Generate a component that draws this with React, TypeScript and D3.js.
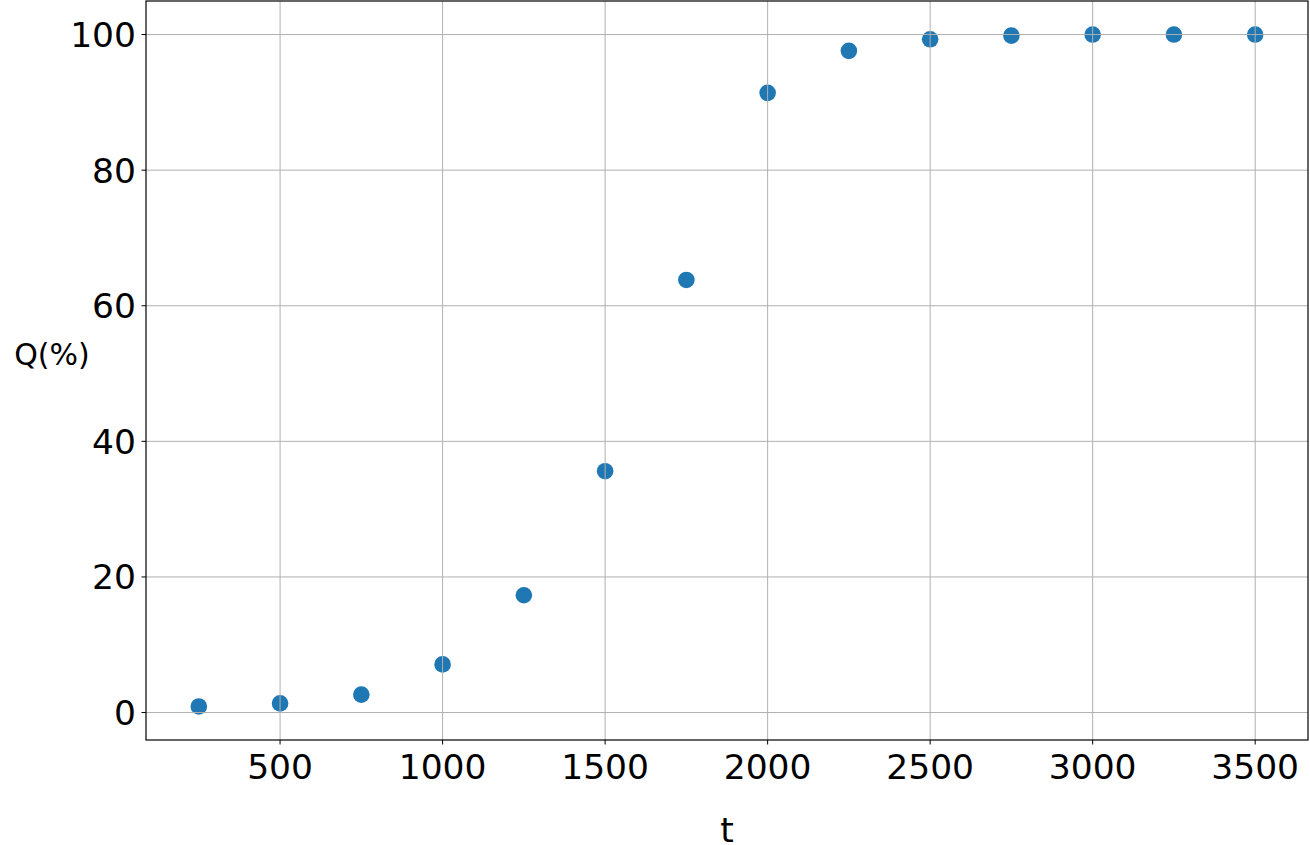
import React from "react";
import * as d3 from "d3";

const tValues = [250, 500, 750, 1000, 1250, 1500, 1750, 2000, 2250, 2500, 2750, 3000, 3250, 3500];
const qValues = [0.9, 1.35, 2.65, 7.1, 17.3, 35.6, 63.8, 91.4, 97.6, 99.3, 99.85, 100, 100, 100];
const xTicks = [500, 1000, 1500, 2000, 2500, 3000, 3500];
const yTicks = [0, 20, 40, 60, 80, 100];

const W = 1310;
const H = 845;
const M = { left: 146, right: 1308, top: 1, bottom: 740 };
const FONT = "DejaVu Sans, sans-serif";

export default function App() {
  const x = d3.scaleLinear().domain([87.5, 3662.5]).range([M.left, M.right]);
  const y = d3.scaleLinear().domain([-4.05, 104.95]).range([M.bottom, M.top]);
  const pts = tValues.map((t, i) => ({ t, q: qValues[i] }));
  return (
    <svg
      width={W}
      height={H}
      style={{ position: "absolute", left: 0, top: 0, background: "#fff" }}
    >
      <rect x={0} y={0} width={W} height={H} fill="#fff" />
      {pts.map((p, i) => (
        <circle key={i} cx={x(p.t)} cy={y(p.q)} r={8.3} fill="#1f77b4" />
      ))}
      <g stroke="#b0b0b0" strokeWidth={1}>
        {xTicks.map((t) => (
          <line key={"gx" + t} x1={x(t)} x2={x(t)} y1={M.top} y2={M.bottom} />
        ))}
        {yTicks.map((t) => (
          <line key={"gy" + t} x1={M.left} x2={M.right} y1={y(t)} y2={y(t)} />
        ))}
      </g>
      <rect
        x={M.left}
        y={M.top}
        width={M.right - M.left}
        height={M.bottom - M.top}
        fill="none"
        stroke="#000"
        strokeWidth={1.2}
      />
      <g stroke="#000" strokeWidth={1}>
        {xTicks.map((t) => (
          <line key={"tx" + t} x1={x(t)} x2={x(t)} y1={M.bottom} y2={M.bottom + 4.5} />
        ))}
        {yTicks.map((t) => (
          <line key={"ty" + t} x1={M.left - 4.5} x2={M.left} y1={y(t)} y2={y(t)} />
        ))}
      </g>
      <g fontFamily={FONT} fontSize={34.5} fill="#000">
        {xTicks.map((t) => (
          <text key={"lx" + t} x={x(t)} y={M.bottom + 39} textAnchor="middle">
            {t}
          </text>
        ))}
        {yTicks.map((t) => (
          <text key={"ly" + t} x={M.left - 10} y={y(t) + 12.5} textAnchor="end">
            {t}
          </text>
        ))}
        <text x={(M.left + M.right) / 2} y={845} textAnchor="middle" dy={-3}>
          t
        </text>
      </g>
      <text x={52} y={365} fontFamily={FONT} fontSize={30} textAnchor="middle" fill="#000">
        Q(%)
      </text>
    </svg>
  );
}
